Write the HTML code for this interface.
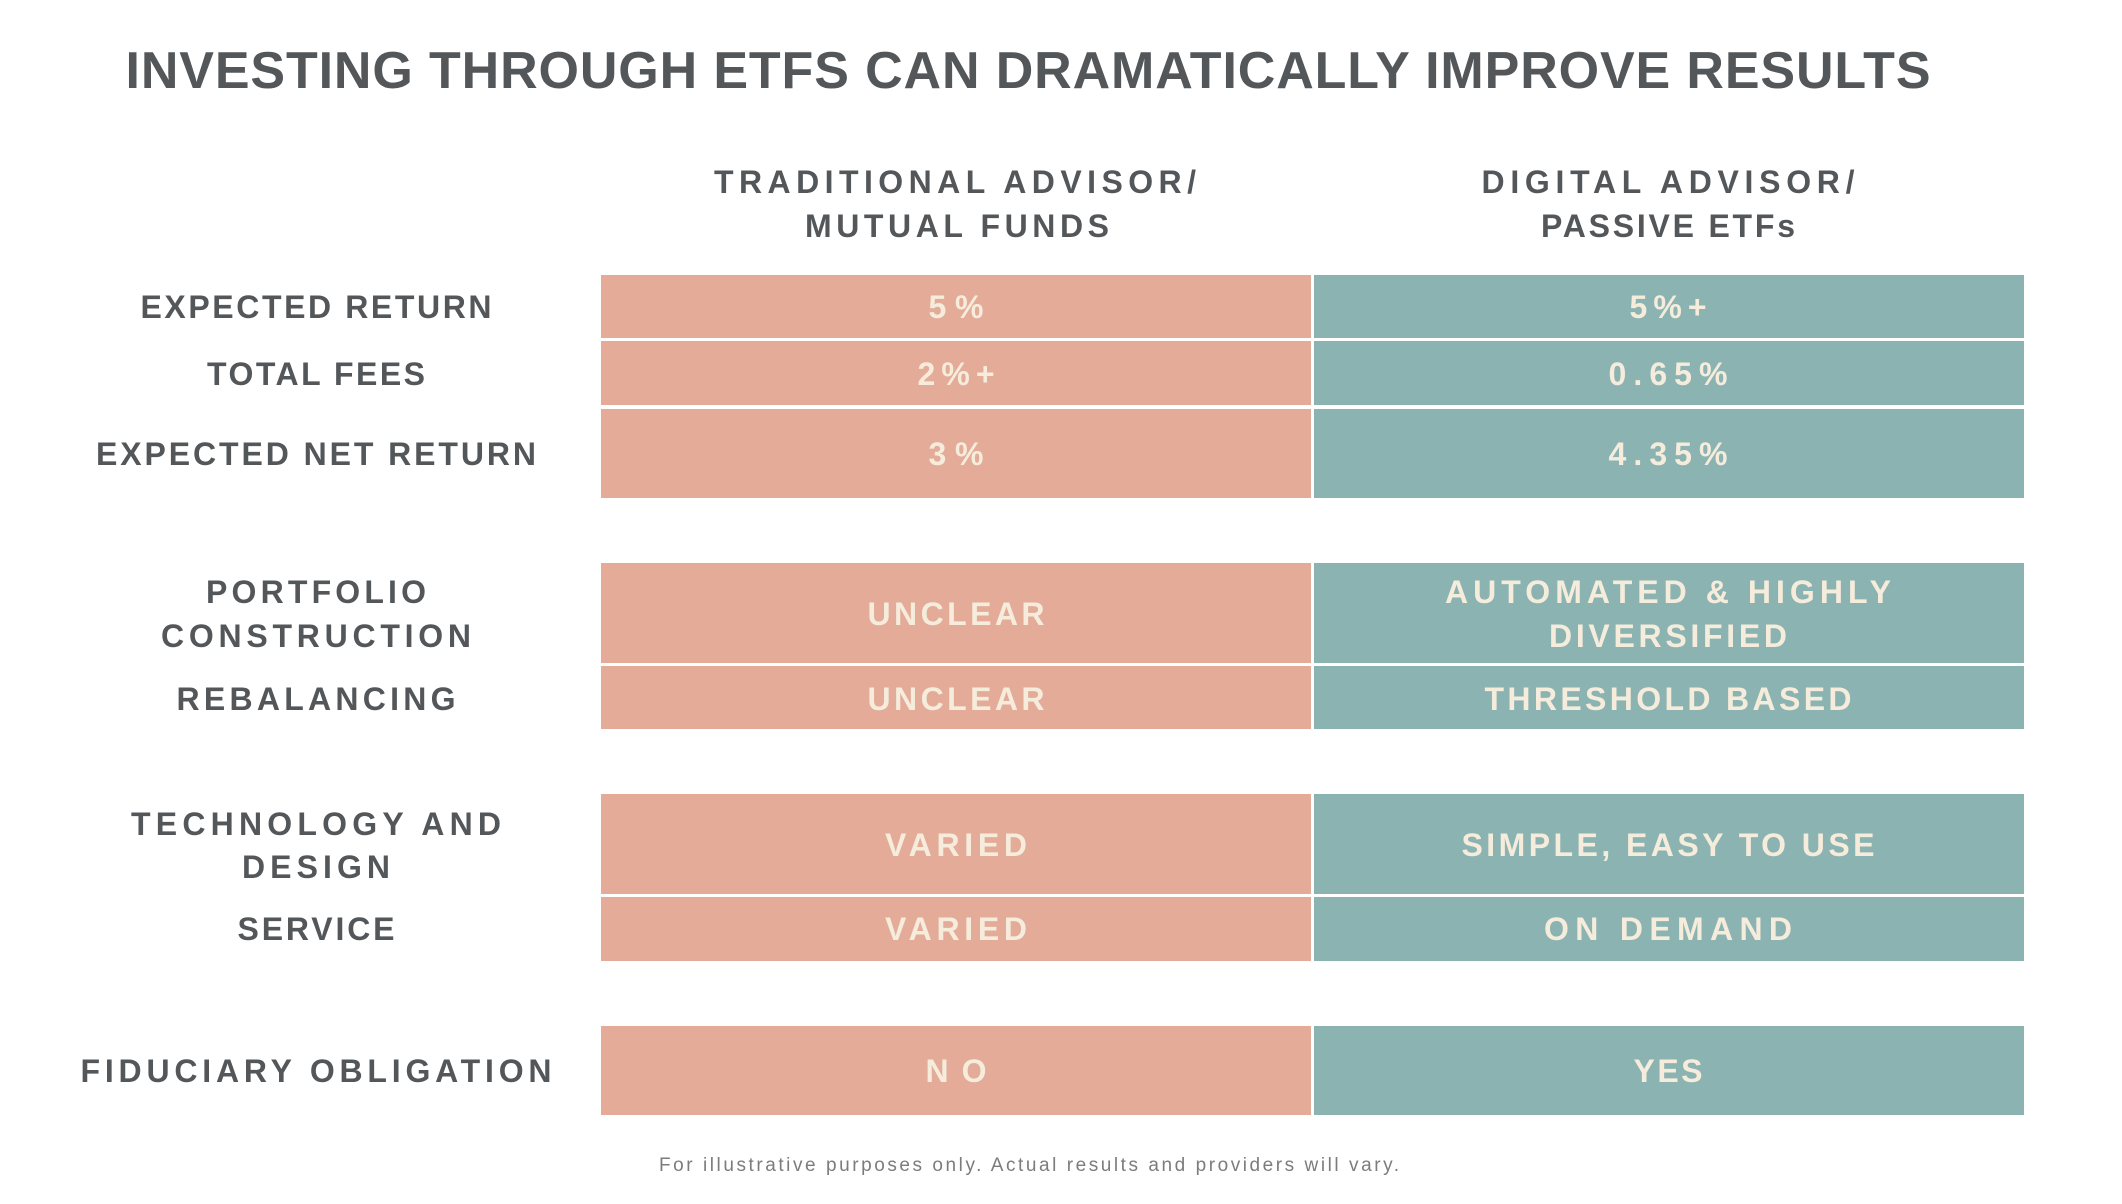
<!DOCTYPE html>
<html><head><meta charset="utf-8"><style>
html,body{margin:0;padding:0;background:#fff;}
svg{display:block;font-family:"Liberation Sans",sans-serif;font-weight:bold;}
.l{fill:#54575a;font-size:32px;}
.c{fill:#f5ecdc;font-size:32px;}
</style></head><body>
<svg width="2122" height="1204" viewBox="0 0 2122 1204">
<rect width="2122" height="1204" fill="#fff"/>
<text x="1028" y="88" text-anchor="middle" fill="#54575a" font-size="52" textLength="1805" lengthAdjust="spacing">INVESTING THROUGH ETFS CAN DRAMATICALLY IMPROVE RESULTS</text>

<g class="l" text-anchor="middle">
<text x="955" y="193" textLength="482">TRADITIONAL ADVISOR/</text>
<text x="957" y="237" textLength="304">MUTUAL FUNDS</text>
<text x="1668" y="193" textLength="373">DIGITAL ADVISOR/</text>
<text x="1668" y="237" textLength="254">PASSIVE ETFs</text>
</g>

<g fill="#e3ab98">
<rect x="601" y="275" width="710" height="63"/>
<rect x="601" y="341" width="710" height="64"/>
<rect x="601" y="409" width="710" height="89"/>
<rect x="601" y="563" width="710" height="100"/>
<rect x="601" y="666" width="710" height="63"/>
<rect x="601" y="794" width="710" height="100"/>
<rect x="601" y="897" width="710" height="64"/>
<rect x="601" y="1026" width="710" height="89"/>
</g>
<g fill="#8bb3b2">
<rect x="1314" y="275" width="710" height="63"/>
<rect x="1314" y="341" width="710" height="64"/>
<rect x="1314" y="409" width="710" height="89"/>
<rect x="1314" y="563" width="710" height="100"/>
<rect x="1314" y="666" width="710" height="63"/>
<rect x="1314" y="794" width="710" height="100"/>
<rect x="1314" y="897" width="710" height="64"/>
<rect x="1314" y="1026" width="710" height="89"/>
</g>

<g class="l" text-anchor="middle">
<text x="316" y="318" textLength="351">EXPECTED RETURN</text>
<text x="316" y="385" textLength="218">TOTAL FEES</text>
<text x="316" y="465" textLength="440">EXPECTED NET RETURN</text>
<text x="316" y="603" textLength="220">PORTFOLIO</text>
<text x="316" y="647" textLength="310">CONSTRUCTION</text>
<text x="316" y="710" textLength="279">REBALANCING</text>
<text x="316" y="835" textLength="370">TECHNOLOGY AND</text>
<text x="316" y="878" textLength="148">DESIGN</text>
<text x="316" y="940" textLength="157">SERVICE</text>
<text x="316" y="1082" textLength="471">FIDUCIARY OBLIGATION</text>
</g>

<g class="c" text-anchor="middle">
<text x="956" y="318" textLength="55">5%</text>
<text x="956" y="385" textLength="77">2%+</text>
<text x="956" y="465" textLength="55">3%</text>
<text x="956" y="625" textLength="177">UNCLEAR</text>
<text x="956" y="710" textLength="177">UNCLEAR</text>
<text x="956" y="856" textLength="142">VARIED</text>
<text x="956" y="940" textLength="142">VARIED</text>
<text x="956" y="1082" textLength="61">NO</text>
</g>
<g class="c" text-anchor="middle">
<text x="1668" y="318" textLength="77">5%+</text>
<text x="1668" y="385" textLength="119">0.65%</text>
<text x="1668" y="465" textLength="119">4.35%</text>
<text x="1668" y="603" textLength="446">AUTOMATED &amp; HIGHLY</text>
<text x="1668" y="647" textLength="238">DIVERSIFIED</text>
<text x="1668" y="710" textLength="367">THRESHOLD BASED</text>
<text x="1668" y="856" textLength="413">SIMPLE, EASY TO USE</text>
<text x="1668" y="940" textLength="248">ON DEMAND</text>
<text x="1668" y="1082" textLength="69">YES</text>
</g>

<text x="1029" y="1171" text-anchor="middle" fill="#7a7c7e" font-size="19" font-weight="normal" textLength="740">For illustrative purposes only. Actual results and providers will vary.</text>
</svg>
</body></html>
